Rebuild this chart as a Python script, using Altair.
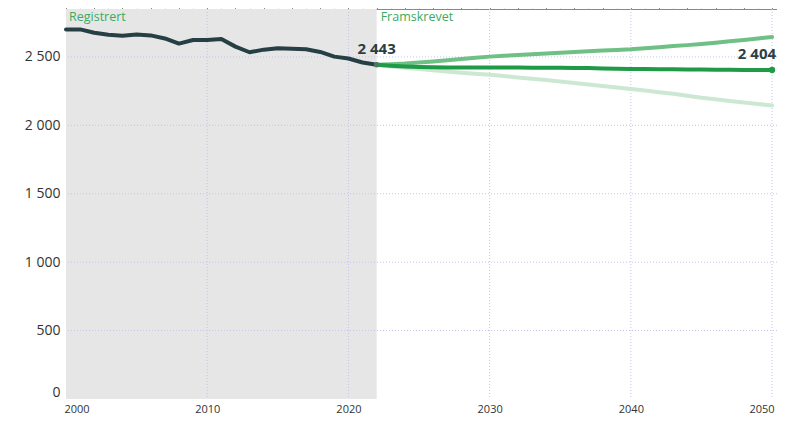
import altair as alt
import pandas as pd

hist_years = list(range(2000, 2023))
hist_values = [2701, 2701, 2676, 2662, 2655, 2664, 2657, 2635, 2597, 2623, 2623, 2630,
               2575, 2534, 2553, 2563, 2560, 2556, 2536, 2502, 2488, 2459, 2443]

proj_years = list(range(2022, 2051))
main_values = [2443, 2436, 2430, 2426, 2424, 2423, 2423, 2423, 2423, 2422, 2422, 2421,
               2421, 2420, 2419, 2418, 2416, 2414, 2412, 2411, 2410, 2409, 2408, 2407,
               2406, 2406, 2405, 2405, 2404]
high_values = [2443, 2446, 2451, 2459, 2467, 2476, 2485, 2494, 2502, 2508, 2514, 2519,
               2525, 2530, 2536, 2541, 2546, 2551, 2556, 2564, 2571, 2579, 2586, 2594,
               2604, 2614, 2624, 2635, 2645]
low_values = [2443, 2430, 2420, 2411, 2402, 2393, 2385, 2377, 2370, 2360, 2350, 2340,
              2331, 2321, 2310, 2299, 2288, 2277, 2266, 2254, 2242, 2230, 2216, 2201,
              2190, 2178, 2167, 2156, 2145]

y_ticks = [500, 1000, 1500, 2000, 2500]
x_labels = [2000, 2010, 2020, 2030, 2040, 2050]
x_grid = [2010, 2020, 2030, 2040, 2050]
x_minor = list(range(2000, 2051))

FONT = "Open Sans"
X_DOMAIN = [2000, 2050.35]
Y_DOMAIN = [0, 2850]
PLOT_W = 711
PLOT_H = 390

xs = alt.Scale(domain=X_DOMAIN, nice=False, zero=False)
ys = alt.Scale(domain=Y_DOMAIN, nice=False)

hist = pd.DataFrame({"year": hist_years, "value": hist_values})
proj = pd.DataFrame({"year": proj_years, "main": main_values, "high": high_values, "low": low_values})

# background shading for the registered period; carries the labelled x axis
shade = alt.Chart(pd.DataFrame({"x": [2000], "x2": [2022]})).mark_rect(color="#e6e6e6").encode(
    x=alt.X("x:Q", scale=xs, axis=alt.Axis(
        values=x_labels, grid=False, domain=False, ticks=False,
        labelFont=FONT, labelFontSize=11, labelColor="#333333", labelPadding=4,
        labelOverlap=False, labelFlush=10, labelFlushOffset=2, format="d", title=None)),
    x2="x2:Q",
    y=alt.value(0),
    y2=alt.value(PLOT_H),
)

ygrid = alt.Chart(pd.DataFrame({"v": y_ticks})).mark_rule(
    color="#c4c4ee", strokeDash=[1, 2], strokeWidth=1
).encode(y=alt.Y("v:Q", scale=ys, axis=alt.Axis(
    values=[0] + y_ticks, grid=False, domain=False, ticks=False,
    labelExpr="replace(format(datum.value, ','), ',', ' ')",
    labelFont=FONT, labelFontSize=14, labelColor="#333333", labelPadding=6,
    labelFlush=True, title=None)))

# vertical grid; carries the faint yearly tick axis
xgrid = alt.Chart(pd.DataFrame({"v": x_grid})).mark_rule(
    color="#c4c4ee", strokeDash=[1, 2], strokeWidth=1
).encode(x=alt.X("v:Q", scale=xs, axis=alt.Axis(
    values=x_minor, grid=False, domain=True, domainColor="#eeeeee",
    ticks=True, tickSize=3, tickColor="#e6e6e6", labels=False, title=None)))

def line(df, field, color, width):
    return alt.Chart(df).mark_line(color=color, strokeWidth=width, strokeCap="round",
                                   strokeJoin="round").encode(
        x=alt.X("year:Q", scale=xs), y=alt.Y(f"{field}:Q", scale=ys))

low_line = line(proj, "low", "#cce8d2", 4)
high_line = line(proj, "high", "#6fc084", 4)
main_line = line(proj, "main", "#1f9a47", 4)
hist_line = line(hist, "value", "#263f44", 4)

end_pt = alt.Chart(pd.DataFrame({"year": [2050], "v": [main_values[-1]]})).mark_circle(
    color="#1f9a47", size=40, opacity=1).encode(x=alt.X("year:Q", scale=xs), y=alt.Y("v:Q", scale=ys))
start_pt = alt.Chart(pd.DataFrame({"year": [2022], "v": [hist_values[-1]]})).mark_circle(
    color="#4a7a5c", size=30, opacity=1).encode(x=alt.X("year:Q", scale=xs), y=alt.Y("v:Q", scale=ys))

lab_start = alt.Chart(pd.DataFrame({"year": [2022], "v": [2443], "t": ["2 443"]})).mark_text(
    font=FONT, fontSize=15, fontWeight="bold", color="#2b3f45", dy=-16, align="center"
).encode(x=alt.X("year:Q", scale=xs), y=alt.Y("v:Q", scale=ys), text="t:N")
lab_end = alt.Chart(pd.DataFrame({"year": [2050], "v": [2404], "t": ["2 404"]})).mark_text(
    font=FONT, fontSize=15, fontWeight="bold", color="#2b3f45", dy=-16, dx=4, align="right"
).encode(x=alt.X("year:Q", scale=xs), y=alt.Y("v:Q", scale=ys), text="t:N")

reg = alt.Chart(pd.DataFrame({"year": [2000], "v": [Y_DOMAIN[1]], "t": ["Registrert"]})).mark_text(
    font=FONT, fontSize=12.5, color="#3daa5e", align="left", baseline="top", dx=3, dy=2
).encode(x=alt.X("year:Q", scale=xs), y=alt.Y("v:Q", scale=ys), text="t:N")
fram = alt.Chart(pd.DataFrame({"year": [2022], "v": [Y_DOMAIN[1]], "t": ["Framskrevet"]})).mark_text(
    font=FONT, fontSize=12.5, color="#3daa5e", align="left", baseline="top", dx=4, dy=2
).encode(x=alt.X("year:Q", scale=xs), y=alt.Y("v:Q", scale=ys), text="t:N")

chart = alt.layer(
    shade, xgrid, ygrid, low_line, high_line, main_line, hist_line,
    start_pt, end_pt, lab_start, lab_end, reg, fram
).resolve_axis(x="independent").properties(
    width=PLOT_W, height=PLOT_H,
    autosize=alt.AutoSizeParams(type="none"),
    padding={"left": 58, "top": 1, "right": 0, "bottom": 15},
).configure_view(stroke=None)

chart.save("out.html", embed_options={"renderer": "svg", "actions": False})
